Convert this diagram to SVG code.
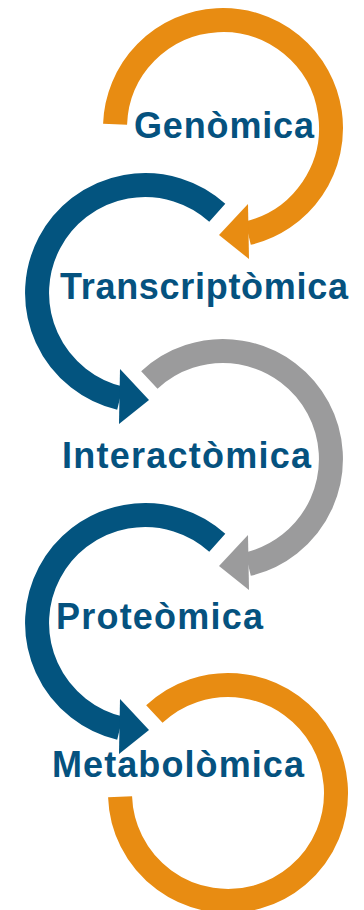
<svg xmlns="http://www.w3.org/2000/svg" width="364" height="910" viewBox="0 0 364 910">
  <style>
    .ring { fill: none; stroke-width: 24; stroke-linecap: butt; }
    .orange { stroke: #E88C12; }
    .blue { stroke: #03547F; }
    .gray { stroke: #9B9B9C; }
    .head-orange { fill: #E88C12; }
    .head-blue { fill: #03547F; }
    .head-gray { fill: #9B9B9C; }
    .label { font-family: "Liberation Sans", Arial, sans-serif; font-weight: bold; font-size: 36px; fill: #05527F; }
  </style>
  <rect width="364" height="910" fill="#FFFFFF"/>
  <g id="connectors">
    <g id="arrow-genomica">
      <path class="ring orange" d="M115.07,124.23 A108,108 0 1 1 248.0,233.1"/>
      <polygon class="head-orange" points="248,204 249,259 219,235"/>
    </g>
    <g id="arrow-transcriptomica">
      <path class="ring blue" d="M217.27,212.74 A108,108 0 1 0 120.0,398.1"/>
      <polygon class="head-blue" points="120,369 119,424 149,400"/>
    </g>
    <g id="arrow-interactomica">
      <path class="ring gray" d="M149.34,380.01 A108,108 0 1 1 248.0,564.1"/>
      <polygon class="head-gray" points="248,535 249,590 219,566"/>
    </g>
    <g id="arrow-proteomica">
      <path class="ring blue" d="M217.27,542.74 A108,108 0 1 0 120.0,728.1"/>
      <polygon class="head-blue" points="120,699 119,754 149,730"/>
    </g>
    <g id="arrow-metabolomica">
      <path class="ring orange" d="M154.34,714.01 A108,108 0 1 1 120.07,796.77"/>
    </g>
  </g>
  <g id="node-genomica">
    <text class="label" x="134" y="138" textLength="180" lengthAdjust="spacing">Genòmica</text>
  </g>
  <g id="node-transcriptomica">
    <text class="label" x="60" y="299" textLength="288" lengthAdjust="spacing">Transcriptòmica</text>
  </g>
  <g id="node-interactomica">
    <text class="label" x="62" y="468" textLength="249" lengthAdjust="spacing">Interactòmica</text>
  </g>
  <g id="node-proteomica">
    <text class="label" x="56" y="629" textLength="207" lengthAdjust="spacing">Proteòmica</text>
  </g>
  <g id="node-metabolomica">
    <text class="label" x="52" y="777" textLength="252" lengthAdjust="spacing">Metabolòmica</text>
  </g>
</svg>
